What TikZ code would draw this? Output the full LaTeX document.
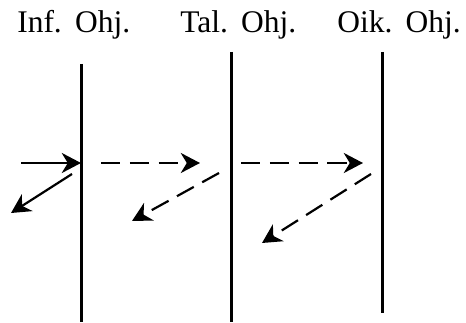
\documentclass[tikz,border=0pt]{standalone}
\usepackage{fontspec}
\setmainfont{Liberation Serif}
\usetikzlibrary{arrows.meta}
\begin{document}
\begin{tikzpicture}[x=0.25mm,y=-0.25mm,
  wall/.style={line width=0.75mm},
  flow/.style={line width=0.7mm,-{Stealth[length=4.8mm,width=5mm,inset=1.5mm]}},
  back/.style={line width=0.55mm,-{Stealth[length=4.8mm,width=5mm,inset=1.5mm]}},
  dsh/.style={dash pattern=on 4.8mm off 2.4mm},
  lbl/.style={anchor=base west,inner sep=0pt,font=\fontsize{22.4}{26}\selectfont}]
\useasboundingbox (0,0) rectangle (466,323);
% headings
\node[lbl] (inf) at (17,33) {Inf.\hspace{0.42em}Ohj.};
\node[lbl] (tal) at (180,33) {Tal.\hspace{0.42em}Ohj.};
\node[lbl] (oik) at (337,33) {Oik.\hspace{0.42em}Ohj.};
% walls
\coordinate (w1t) at (81.5,64);  \coordinate (w1b) at (81.5,322);
\coordinate (w2t) at (231.7,52); \coordinate (w2b) at (231.7,322);
\coordinate (w3t) at (382,52);   \coordinate (w3b) at (382,313);
\draw[wall] (w1t) -- (w1b);
\draw[wall] (w2t) -- (w2b);
\draw[wall] (w3t) -- (w3b);
% arrows
\coordinate (a1s) at (21,163);  \coordinate (a1e) at (81,163);
\coordinate (r1s) at (72,174);  \coordinate (r1e) at (11,213);
\coordinate (a2s) at (101,163); \coordinate (a2e) at (200,163);
\coordinate (r2s) at (219,173); \coordinate (r2e) at (132,221);
\coordinate (a3s) at (241,163); \coordinate (a3e) at (363,163);
\coordinate (r3s) at (371,174); \coordinate (r3e) at (262,243);
\draw[flow] (a1s) -- (a1e);
\draw[back] (r1s) -- (r1e);
\draw[flow,dsh] (a2s) -- (a2e);
\draw[back,dsh] (r2s) -- (r2e);
\draw[flow,dsh] (a3s) -- (a3e);
\draw[back,dsh] (r3s) -- (r3e);
\end{tikzpicture}
\end{document}
